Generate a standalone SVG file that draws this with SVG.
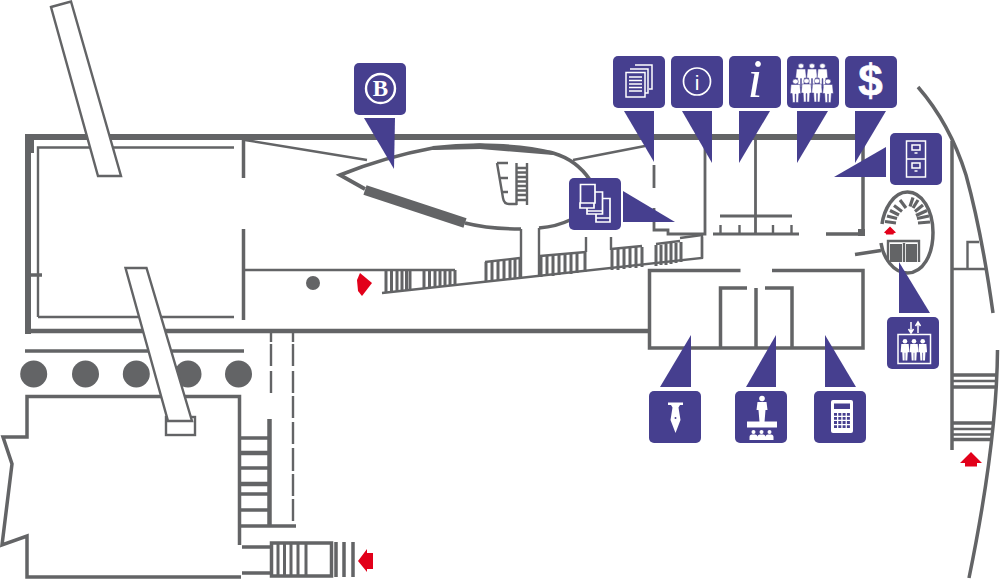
<svg xmlns="http://www.w3.org/2000/svg" width="1000" height="579" viewBox="0 0 1000 579">
<style>
.w{fill:none;stroke:#636466;stroke-width:2.400}
.m{fill:none;stroke:#636466;stroke-width:3.500}
.t{fill:none;stroke:#636466;stroke-width:4.500}
.x{fill:none;stroke:#636466;stroke-width:6}
.d{fill:#636466}
.b{fill:#fff;stroke:#636466;stroke-width:2.400}
.r{fill:#e2001a}
.i{fill:#463f8f}
.s{fill:none;stroke:#fff;stroke-width:1.500}
.f{fill:#fff}
.st{fill:none;stroke:#636466;stroke-width:3}
</style>
<defs>
<rect id="tile" class="i" width="52" height="52" rx="5"/>
<g id="man"><circle cx="0" cy="-7.500" r="2"/><path d="M-3.200-5H3.200L3.800 2.500H2.400L2 10H.3V3H-.3V10H-2L-2.400 2.500H-3.800Z"/></g>
</defs>
<g id="plan">
<path class="x" d="M28 334V137H864"/>
<path class="d" d="M25 134H34V153H25Z"/>
<path class="t" d="M25 331H648"/>
<path class="m" d="M863 137V235M826 234H864"/>
<path class="d" d="M858 229H865V236H858Z"/>
<path class="w" d="M38 317V147.500H234M38 317H234"/>
<path class="m" d="M31 275H42"/>
<path class="m" d="M243.500 140V178M243.500 229V320"/>
<path class="w" d="M245 140L367 160M245 270H455M573 160L645 146"/>
<circle class="d" cx="313" cy="283" r="7"/>
<path class="t" style="stroke-width:3.800" d="M365 189L340 175C365 165 395 155 433 148C475 143 520 145 553 153C570 158 582 168 590 180"/>
<path class="d" d="M433 147L480 143.500L553 151L553 155L480 149L433 150Z"/>
<path d="M365 190L465 223" style="stroke:#636466;stroke-width:10;fill:none"/>
<path class="m" d="M465 223C485 228 500 229 521 229M539 228C550 227 560 225 570 220"/>
<path class="w" d="M521 229V277M539 228V275M586 237V252M611 237V250"/>
<path class="w" d="M497 163H508M497 163L503 198Q504 204 509 204H517M500 178H508M503 192H508M516.500 163V205M527 163V205"/>
<path class="st" style="stroke-width:2.300" d="M516 168H527M516 172.500H527M516 177H527M516 181.500H527M516 186H527M516 190.500H527M516 195H527M516 200H527"/>
<path class="w" d="M382 293L702 258V235"/>
<path class="w" d="M680 238L702 235"/>
<path class="st" d="M386 270V293M391.500 270V292M397 270V292M402 270V291M406.500 270V291M410 270V290M424 270V289M429.500 270V288M435 270V288M440 270V287M445 270V287M450 270V286M455 270V286"/>
<path class="st" d="M486 262V282M492 261V281M498 261V281M504 260V280M510 260V280M515 259V279M520 258V278"/>
<path class="w" d="M485 262L520 258M540 256L586 252M611 249L642 246M656 244L680 241"/>
<path class="st" d="M541 256V277M547 255V276M553 255V276M559 254V275M565 254V274M571 253V274M577 253V273M585 252V272"/>
<path class="st" d="M612 249V270M618 249V270M624 248V269M630 248V268M636 247V268M642 247V267M656 245V266M661 245V265M666 244V265M671 243V264M676 243V263M681 242V262"/>
<path class="w" style="stroke-width:2.800" d="M654 165V188M654 208V230H668V234H705V137"/>
<path class="w" d="M702 237V258"/>
<path class="w" style="stroke-width:2.800" d="M755.500 137V234M720 216H792M713 234H799"/>
<path class="w" d="M720.500 225V234M739.500 225V234M773 225V234M791.500 225V234"/>
<path class="m" d="M740.500 270.500H649.500V348H863V270.500H772M720.500 348V288H747M765 288H792V348M756 288V348"/>
<path class="m" d="M881 243C883 257 893 273 907.500 273C923 273 933 255 933 232.500C933 210 922 192 907.500 192C893 192 884 210 882 224"/>
<path class="t" style="stroke-width:3.200" d="M885 221.500L896 223M887 216L897 218.500M890 210.500L899 215M894 205.500L902 211.500M900 200L906 208M913 197.500L910 206.500M918 200L913 208M923 205L915 211.500M927 210.500L916 215.500M929 216L917 218.500M930 222L918 223"/>
<path class="r" d="M890 226.500L896 232.500L893.500 233.500V234.500H886V233.500L884 232.500Z"/>
<path class="w" d="M888 262V241H919V262M904 243V262"/>
<path class="d" d="M890 244H902V262H890ZM906 244H917V262H906Z"/>
<path class="m" d="M855 254.500L881 250.500"/>
<path class="m" d="M918 87C938 110 955 140 966 175C977 215 987 270 993 313"/>
<path class="m" d="M952 141V450"/>
<path class="m" d="M997.500 350C997 420 985 500 969 578"/>
<path class="w" d="M952 269H985M967.500 269V242H979"/>
<path class="m" d="M953 375H997M953 387H996M953 423H994M953 439.500H993"/>
<path class="w" d="M953 381H997M953 429H994M953 434.500H993"/>
<path class="r" d="M971 452L982 463H977V466.500H965V463H960Z"/>
<path class="m" d="M25 351H244"/>
<circle class="d" cx="33.700" cy="374" r="13.500"/>
<circle class="d" cx="85.500" cy="374" r="13.500"/>
<circle class="d" cx="136.300" cy="374" r="13.500"/>
<circle class="d" cx="188" cy="374" r="13.500"/>
<circle class="d" cx="238.500" cy="374" r="13.500"/>
<path class="m" d="M239.500 545V396.500H27V437H3L12 464L2 545L27 536V577H241"/>
<rect class="b" x="166" y="417" width="29" height="18"/>
<path class="b" d="M125.500 268H146.500L192 421H168Z"/>
<path class="b" d="M51 7L71 1.500L121 176H98Z"/>
<path class="w" d="M271 333V393" stroke-dasharray="9 2 22 5 23"/>
<path class="w" d="M293 333V524" stroke-dasharray="9 2 22 5 22 3 22 4 22 4 23 3 22 3 22"/>
<path class="t" d="M269.500 419V526"/>
<path class="m" d="M240 438H268M240 468H268M240 494H268M240 510H268"/>
<path class="t" d="M240 453H268M240 484H268"/>
<path class="m" d="M240 526H296"/>
<path class="m" d="M242 547H270M242 573H270"/>
<rect class="m" x="271.500" y="543" width="60" height="33"/>
<path class="st" d="M278 543V576M284.500 543V576M291 543V576M298 543V576M306 543V576"/>
<path class="st" style="stroke-width:3.500" d="M336 542V577M344 542V577M353 542V577"/>
<path class="r" d="M358 561L367 549V553H373V569H367V572Z"/>
<path class="r" d="M357 280L360 273L372 283L362 296L358 291Z"/>
</g>
<g id="pointers" class="i">
<path d="M364 118H395L394 169Z"/>
<path d="M624 111H654V162Z"/>
<path d="M682 111H712V163Z"/>
<path d="M739 111H770L739 163Z"/>
<path d="M797 111H828L797 163Z"/>
<path d="M855 111H886L855 163Z"/>
<path d="M886 147V177H834Z"/>
<path d="M623 191V222H675Z"/>
<path d="M899 262L930 313H899Z"/>
<path d="M691 335V387H660Z"/>
<path d="M776 335V387H746Z"/>
<path d="M825 335L856 387H825Z"/>
</g>
<g id="bank"><use href="#tile" x="354" y="63"/><circle cx="380.500" cy="88.500" r="14.500" fill="none" stroke="#fff" stroke-width="2.400"/><text x="380.500" y="96" text-anchor="middle" font-family="'Liberation Serif',serif" font-weight="700" font-size="23" fill="#fff">B</text></g>
<g id="documents"><use href="#tile" x="613" y="56"/><path class="s" d="M635 65H652V89H649M630 69H648V93H645"/><rect class="s" x="626" y="72.500" width="19" height="24.500"/><path class="s" d="M629 77H642M629 80.500H642M629 84H642M629 87.500H642M629 91H642"/></g>
<g id="info"><use href="#tile" x="671" y="56"/><circle cx="697" cy="81.500" r="13.500" fill="none" stroke="#fff" stroke-width="1.700"/><text x="697" y="89.500" text-anchor="middle" font-family="'Liberation Sans',sans-serif" font-size="21" fill="#fff">i</text></g>
<g id="information"><use href="#tile" x="729" y="56"/><text x="755" y="97" text-anchor="middle" font-family="'Liberation Serif',serif" font-style="italic" font-size="54" fill="#fff">i</text></g>
<g id="group"><use href="#tile" x="787" y="56"/><g class="f" stroke="#463f8f" stroke-width=".4"><use href="#man" transform="translate(801 75) scale(1.400 1.200)"/><use href="#man" transform="translate(812 75) scale(1.400 1.200)"/><use href="#man" transform="translate(822.500 75) scale(1.400 1.200)"/><use href="#man" transform="translate(795.500 90.500) scale(1.400 1.200)"/><use href="#man" transform="translate(806.500 90) scale(1.400 1.200)"/><use href="#man" transform="translate(817 90) scale(1.400 1.200)"/><use href="#man" transform="translate(828 90.500) scale(1.400 1.200)"/></g></g>
<g id="cashier"><use href="#tile" x="845" y="56"/><text x="870.500" y="96" text-anchor="middle" font-family="'Liberation Sans',sans-serif" font-weight="700" font-size="44" fill="#fff" stroke="#fff" stroke-width=".6">$</text></g>
<g id="cabinet"><use href="#tile" x="890" y="133"/><path class="s" d="M906.500 141H925.500V177H906.500ZM906.500 159H925.500M912 145H920V150H912ZM912 163H920V168H912ZM914.500 153H917.500M914.500 171H917.500"/></g>
<g id="books"><use href="#tile" x="569" y="178"/><path class="s" style="stroke-width:1.700" d="M580.500 184.500H595V203H580.500ZM580 203H594V208H580ZM595 192H602.500V211M587 208V214H602.500V211H587M602.500 198.500H610V218M596 214V218H610V222H596V218H610"/></g>
<g id="lift"><use href="#tile" x="887" y="317"/><rect class="s" x="898" y="334.500" width="32.500" height="29"/><path d="M911 322V332M908.500 329L911 333L913.500 329M918 333V323M915.500 326L918 322L920.500 326" fill="none" stroke="#fff" stroke-width="1.500"/><g class="f"><use href="#man" transform="translate(905 349.500) scale(1.150 1.100)"/><use href="#man" transform="translate(914 349.500) scale(1.150 1.100)"/><use href="#man" transform="translate(922.700 349.500) scale(1.150 1.100)"/></g></g>
<g id="notary"><use href="#tile" x="649" y="391"/><path class="f" d="M668 402.500H683V405H680L678.500 407.500L680.500 420L675.500 433L670.500 420L672.500 407.500L671 405H668Z"/><circle cx="675.500" cy="418" r="1" fill="#463f8f"/></g>
<g id="hall"><use href="#tile" x="735" y="391"/><rect class="f" x="747" y="421.500" width="30" height="6"/><g class="f"><circle cx="762" cy="398.500" r="2.800"/><path d="M757.500 402H766.500L767.500 410H765.500L764.500 422H759.500L758.500 410H756.500Z"/><circle cx="753.500" cy="432" r="2"/><circle cx="761.500" cy="432" r="2"/><circle cx="769.500" cy="432" r="2"/><path d="M749.500 440V437Q749.500 434.500 752 434.500H755Q757.500 434.500 757.500 437V440ZM757.500 440V437Q757.500 434.500 760 434.500H763Q765.500 434.500 765.500 437V440ZM765.500 440V437Q765.500 434.500 768 434.500H771Q773.500 434.500 773.500 437V440Z"/></g></g>
<g id="calculator"><use href="#tile" x="814" y="391"/><rect class="f" x="831" y="400" width="22" height="33" rx="2"/><rect class="i" x="834" y="403.500" width="16" height="5.500"/><path d="M834 414.300H850M834 418.400H850M834 422.500H850M834 426.600H850" stroke="#463f8f" stroke-width="2.800" stroke-dasharray="3 1.300" fill="none"/></g>
</svg>
